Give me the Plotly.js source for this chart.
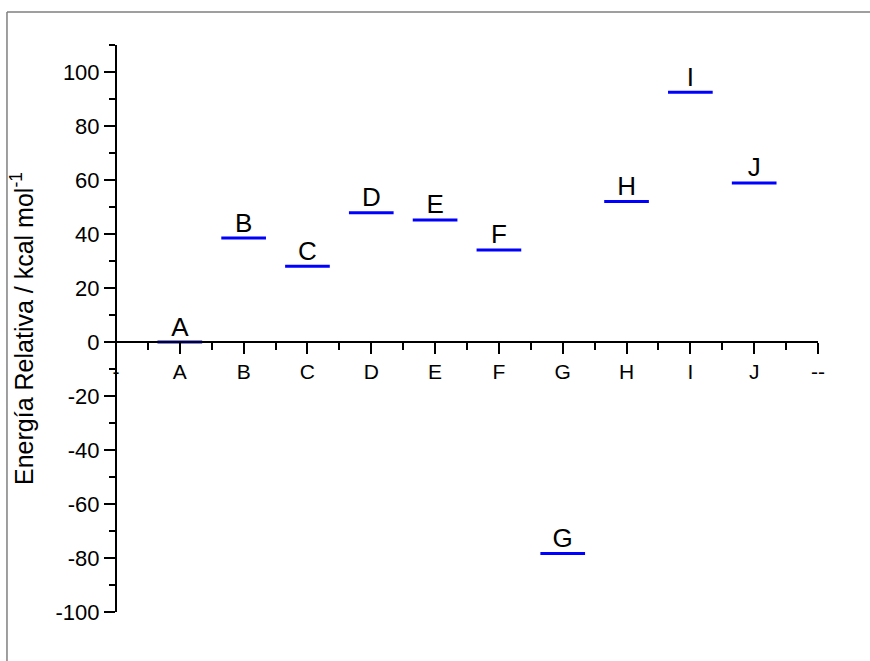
<!DOCTYPE html>
<html>
<head>
<meta charset="utf-8">
<script src="https://cdn.plot.ly/plotly-3.0.1.min.js"></script>
<style>
  body { margin: 0; background: #fff; }
  #chart { width: 870px; height: 661px; }
</style>
</head>
<body>
<div id="chart"></div>
<script>
// relative energies of each species (kcal/mol)
const species = ['A', 'B', 'C', 'D', 'E', 'F', 'G', 'H', 'I', 'J'];
const energies = [0, 38.5, 28.1, 47.9, 45.2, 34.1, -78.3, 52.0, 92.5, 58.9];
const tickLabels = ['-', 'A', 'B', 'C', 'D', 'E', 'F', 'G', 'H', 'I', 'J', '--'];
const yTicks = [-100, -80, -60, -40, -20, 0, 20, 40, 60, 80, 100];

const halfWidth = 0.35;
const positions = species.map((_, i) => i + 1);

// one level line per species, separated with nulls
const segX = [];
const segY = [];
positions.forEach((p, i) => {
    segX.push(p - halfWidth, p + halfWidth, null);
    segY.push(energies[i], energies[i], null);
});

const font = 'Liberation Sans, Arial, sans-serif';

const data = [
    {
        x: segX,
        y: segY,
        type: 'scatter',
        mode: 'lines',
        line: { color: '#0000ff', width: 3 },
        hoverinfo: 'skip',
        showlegend: false,
    },
    {
        x: positions,
        y: energies,
        type: 'scatter',
        mode: 'text',
        text: species,
        textposition: 'top center',
        textfont: { family: font, size: 26, color: '#000' },
        showlegend: false,
    },
];

const layout = {
    width: 870,
    height: 661,
    margin: { l: 116, r: 52, t: 45, b: 49 },
    paper_bgcolor: '#fff',
    plot_bgcolor: '#fff',
    font: { family: font, color: '#000' },
    xaxis: {
        range: [0, 11],
        anchor: 'free',
        position: 100 / 210,
        tickmode: 'array',
        tickvals: tickLabels.map((_, i) => i),
        ticktext: tickLabels,
        ticks: 'outside',
        ticklen: 11,
        tickwidth: 2,
        tickcolor: '#000',
        minor: {
            tickmode: 'array',
            tickvals: tickLabels.slice(1).map((_, i) => i + 0.5),
            ticks: 'outside',
            ticklen: 7,
            tickwidth: 2,
            tickcolor: '#000',
        },
        showline: true,
        linecolor: '#000',
        linewidth: 2,
        showgrid: false,
        zeroline: false,
        tickfont: { family: font, size: 21, color: '#000' },
        fixedrange: true,
    },
    yaxis: {
        range: [-100, 110],
        anchor: 'free',
        position: 0,
        tickmode: 'array',
        tickvals: yTicks,
        ticktext: yTicks.map(String),
        ticks: 'outside',
        ticklen: 11,
        tickwidth: 2,
        tickcolor: '#000',
        minor: {
            dtick: 10,
            ticks: 'outside',
            ticklen: 6,
            tickwidth: 2,
            tickcolor: '#000',
        },
        showline: true,
        linecolor: '#000',
        linewidth: 2,
        showgrid: false,
        zeroline: false,
        tickfont: { family: font, size: 22, color: '#000' },
        title: {
            text: 'Energía Relativa / kcal mol<sup>-1</sup>',
            font: { family: font, size: 25, color: '#000' },
            standoff: 14,
        },
        fixedrange: true,
    },
    shapes: [
        // outer frame, top and left edges only
        { type: 'line', xref: 'paper', yref: 'paper', x0: -0.1553, x1: 1.08, y0: 1.0582, y1: 1.0582,
          line: { color: '#7f7f7f', width: 1.5 } },
        { type: 'line', xref: 'paper', yref: 'paper', x0: -0.1553, x1: -0.1553, y0: 1.0582, y1: -0.1,
          line: { color: '#7f7f7f', width: 1.5 } },
    ],
};

Plotly.newPlot('chart', data, layout, { displayModeBar: false, staticPlot: true });
</script>
</body>
</html>
